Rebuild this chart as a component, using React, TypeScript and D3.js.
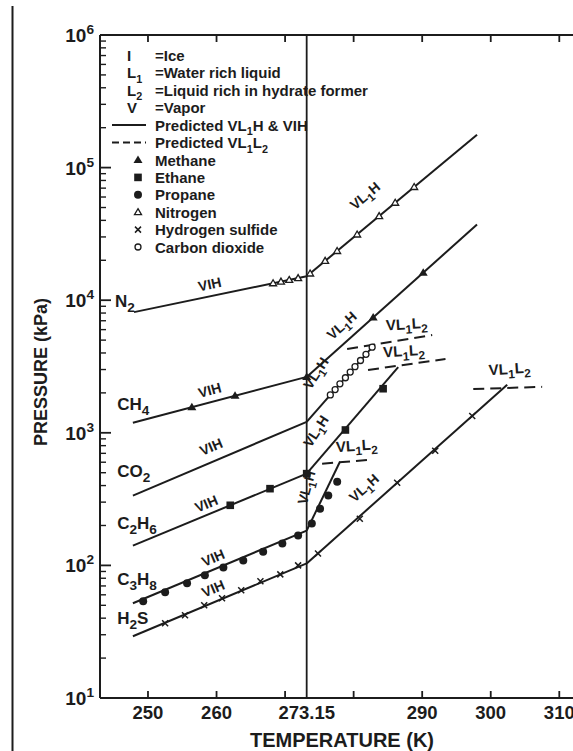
import React from "react";
import * as d3 from "d3";

type Pt = [number, number];

// ---- data (temperature K, pressure kPa) ----
const xTickValues = [250, 260, 270, 273.15, 280, 290, 300, 310];
const xTickLabels = ["250", "260", "", "273.15", "", "290", "300", "310"];
const yDecades = [1, 2, 3, 4, 5, 6];

const n2VIH: Pt[] = [[247.96, 8130], [273.15, 15140]];
const n2VL1H: Pt[] = [[273.15, 15140], [298.0, 177000]];
const n2Points: Pt[] = [
  [268.25, 13420], [269.4, 13800], [270.6, 14220], [271.9, 14690],
  [273.65, 15900], [275.84, 19800], [277.59, 23500], [280.51, 31300],
  [283.72, 43100], [286.06, 54300], [288.83, 71400],
];

const ch4VIH: Pt[] = [[247.8, 1190], [273.15, 2640]];
const ch4VL1H: Pt[] = [[273.15, 2640], [298.0, 37200]];
const ch4Points: Pt[] = [[256.4, 1560], [262.7, 1900], [273.15, 2640], [282.85, 7410], [290.15, 16100]];

const co2VIH: Pt[] = [[247.8, 336], [273.15, 1210]];
const co2VL1H: Pt[] = [[273.15, 1210], [283.1, 4670]];
const co2VL1L2: Pt[] = [[279.05, 4290], [291.46, 5460]];
const co2Points: Pt[] = [
  [276.6, 1930], [277.3, 2120], [278.0, 2340], [278.8, 2600], [279.5, 2870],
  [280.2, 3150], [281.0, 3510], [281.8, 3910], [282.7, 4420],
];

const c2h6VIH: Pt[] = [[247.8, 141], [273.15, 492]];
const c2h6VL1H: Pt[] = [[273.15, 492], [286.5, 3130]];
const c2h6VL1L2: Pt[] = [[282.1, 2980], [293.4, 3600]];
const c2h6Points: Pt[] = [[262.0, 284], [267.8, 379], [273.15, 492], [278.8, 1050], [284.3, 2150]];

const c3h8VIH: Pt[] = [[247.8, 51.8], [273.15, 183]];
const c3h8VL1H: Pt[] = [[273.15, 183], [278.0, 605]];
const c3h8VL1L2: Pt[] = [[275.4, 585], [282.7, 627]];
const c3h8Points: Pt[] = [
  [249.3, 53.6], [252.5, 62.7], [255.7, 73.2], [258.3, 84.1], [261.0, 96.6],
  [263.9, 109], [266.8, 127], [269.6, 146], [271.9, 168],
  [273.9, 207], [275.1, 268], [276.3, 336], [277.6, 428],
];

const h2sVIH: Pt[] = [[247.8, 29.2], [273.15, 103.5]];
const h2sVL1H: Pt[] = [[273.15, 103.5], [302.4, 2300]];
const h2sVL1L2: Pt[] = [[297.45, 2140], [307.5, 2220]];
const h2sPoints: Pt[] = [
  [252.5, 36.6], [255.4, 42.1], [258.2, 50.0], [260.8, 56.5], [263.6, 64.9],
  [266.4, 75.9], [269.3, 85.6], [271.9, 100],
  [274.8, 123], [280.9, 225], [286.35, 420], [291.9, 732], [297.3, 1340],
];

const legendKeys = ["I", "L_1", "L_2", "V"];
const legendKeyTexts = ["=Ice", "=Water rich liquid", "=Liquid rich in hydrate former", "=Vapor"];
const legendLineTexts = ["Predicted VL_1H & VIH", "Predicted VL_1L_2"];
const legendMarkerTypes = ["triUp", "square", "dot", "triOpen", "cross", "circleOpen"];
const legendMarkerTexts = ["Methane", "Ethane", "Propane", "Nitrogen", "Hydrogen sulfide", "Carbon dioxide"];

const compoundNames = ["N_2", "CH_4", "CO_2", "C_2H_6", "C_3H_8", "H_2S"];

const INK = "#1c1c1c";
const FONT = "'Liberation Sans', Arial, Helvetica, sans-serif";

function Rich({ text, fs, sub = 0.72 }: { text: string; fs: number; sub?: number }) {
  const parts = text.split(/([_^].)/).filter((p) => p.length);
  let shift = 0;
  return (
    <>
      {parts.map((p, i) => {
        if (p[0] === "_" || p[0] === "^") {
          const target = p[0] === "_" ? fs * 0.3 : -fs * 0.42;
          const dy = target - shift;
          shift = target;
          return (
            <tspan key={i} dy={dy} fontSize={fs * sub}>
              {p[1]}
            </tspan>
          );
        }
        const dy = -shift;
        shift = 0;
        return (
          <tspan key={i} dy={dy}>
            {p}
          </tspan>
        );
      })}
    </>
  );
}

function Marker({ type, x, y }: { type: string; x: number; y: number }) {
  const s = 4;
  switch (type) {
    case "triUp":
      return <path d={`M${x},${y - s - 0.5}L${x + s + 0.5},${y + s - 1}L${x - s - 0.5},${y + s - 1}Z`} fill={INK} />;
    case "triOpen":
      return (
        <path
          d={`M${x},${y - s + 0.5}L${x + s - 0.5},${y + s - 1.5}L${x - s + 0.5},${y + s - 1.5}Z`}
          fill="white"
          stroke={INK}
          strokeWidth={1.3}
        />
      );
    case "square":
      return <rect x={x - 3.8} y={y - 3.8} width={7.6} height={7.6} fill={INK} />;
    case "dot":
      return <circle cx={x} cy={y} r={4} fill={INK} />;
    case "cross":
      return (
        <path
          d={`M${x - 3},${y - 3}L${x + 3},${y + 3}M${x - 3},${y + 3}L${x + 3},${y - 3}`}
          stroke={INK}
          strokeWidth={1.5}
        />
      );
    case "circleOpen":
      return <circle cx={x} cy={y} r={3} fill="white" stroke={INK} strokeWidth={1.3} />;
    default:
      return null;
  }
}

export default function App() {
  const W = 573;
  const H = 751;
  const left = 100;
  const top = 35;
  const bottom = 698;
  const x = d3.scaleLinear().domain([243, 312]).range([left, W]);
  const y = d3.scaleLog().domain([10, 1e6]).range([bottom, top]);
  const line = d3
    .line<Pt>()
    .x((d) => x(d[0]))
    .y((d) => y(d[1]));

  const solid = [n2VIH, n2VL1H, ch4VIH, ch4VL1H, co2VIH, co2VL1H, c2h6VIH, c2h6VL1H, c3h8VIH, c3h8VL1H, h2sVIH, h2sVL1H];
  const dashed = [co2VL1L2, c2h6VL1L2, c3h8VL1L2, h2sVL1L2];

  const markerSets: { pts: Pt[]; type: string }[] = [
    { pts: n2Points, type: "triOpen" },
    { pts: ch4Points, type: "triUp" },
    { pts: co2Points, type: "circleOpen" },
    { pts: c2h6Points, type: "square" },
    { pts: c3h8Points, type: "dot" },
    { pts: h2sPoints, type: "cross" },
  ];

  // annotation anchors in data units
  const vihLabels: { t: number; p: number; a: number }[] = [
    { t: 259.0, p: 13200, a: -12 },
    { t: 259.0, p: 2100, a: -15 },
    { t: 259.2, p: 785, a: -23 },
    { t: 258.5, p: 292, a: -23 },
    { t: 259.5, p: 114, a: -23 },
    { t: 259.5, p: 67, a: -23 },
  ];
  const vl1hLabels: { t: number; p: number; a: number }[] = [
    { t: 282.1, p: 57400, a: -40 },
    { t: 278.75, p: 6050, a: -42 },
    { t: 275.1, p: 2690, a: -57 },
    { t: 275.1, p: 982, a: -57 },
    { t: 273.8, p: 379, a: -75 },
    { t: 282.0, p: 360, a: -42 },
  ];
  const vl1l2Labels: { t: number; p: number }[] = [
    { t: 287.8, p: 6050 },
    { t: 287.4, p: 3790 },
    { t: 280.5, p: 733 },
    { t: 302.8, p: 2780 },
  ];
  const nameAnchors: { t: number; p: number }[] = [
    { t: 245.2, p: 9820 },
    { t: 245.5, p: 1650 },
    { t: 245.5, p: 518 },
    { t: 245.5, p: 210 },
    { t: 245.5, p: 78.5 },
    { t: 245.5, p: 40 },
  ];

  const minorTicks: number[] = [];
  for (let d = 1; d < 6; d++) for (let m = 2; m <= 9; m++) minorTicks.push(m * Math.pow(10, d));

  const LFS = 15;

  return (
    <svg width={W} height={H} style={{ display: "block", position: "absolute", left: 0, top: 0, background: "white" }} fontFamily={FONT}>
      <rect x={0} y={0} width={W} height={H} fill="white" />
      {/* scan border */}
      <line x1={12.5} y1={6} x2={12.5} y2={H} stroke={INK} strokeWidth={2} />

      {/* axes */}
      <line x1={left} y1={top} x2={W} y2={top} stroke={INK} strokeWidth={2} />
      <line x1={left} y1={bottom} x2={W} y2={bottom} stroke={INK} strokeWidth={2} />
      <line x1={left} y1={top} x2={left} y2={bottom} stroke={INK} strokeWidth={2} />
      <line x1={x(273.15)} y1={top} x2={x(273.15)} y2={bottom} stroke={INK} strokeWidth={1.8} />

      {xTickValues.map((v, i) =>
        v === 273.15 ? null : (
          <g key={"xt" + i}>
            <line x1={x(v)} x2={x(v)} y1={bottom} y2={bottom - 7} stroke={INK} strokeWidth={1.8} />
            <line x1={x(v)} x2={x(v)} y1={top} y2={top + 7} stroke={INK} strokeWidth={1.8} />
          </g>
        )
      )}
      {xTickValues.map((v, i) =>
        xTickLabels[i] ? (
          <text key={"xl" + i} x={x(v)} y={bottom + 21} textAnchor="middle" fontSize={18.5} fontWeight="bold" fill={INK}>
            {xTickLabels[i]}
          </text>
        ) : null
      )}

      {yDecades.map((d) => (
        <g key={"yd" + d}>
          <line x1={left} x2={left + 11} y1={y(Math.pow(10, d))} y2={y(Math.pow(10, d))} stroke={INK} strokeWidth={1.8} />
          <text x={left - 6} y={y(Math.pow(10, d)) + 7} textAnchor="end" fontSize={19} fontWeight="bold" fill={INK}>
            <Rich text={"10^" + d} fs={19} />
          </text>
        </g>
      ))}
      {minorTicks.map((v, i) => (
        <line key={"ym" + i} x1={left} x2={left + 6} y1={y(v)} y2={y(v)} stroke={INK} strokeWidth={1.4} />
      ))}

      <text
        transform={`translate(47,372) rotate(-90)`}
        textAnchor="middle"
        fontSize={18}
        fontWeight="bold"
        fill={INK}
      >
        PRESSURE (kPa)
      </text>
      <text x={342} y={747} textAnchor="middle" fontSize={20} fontWeight="bold" fill={INK}>
        TEMPERATURE (K)
      </text>

      {/* curves */}
      {solid.map((s, i) => (
        <path key={"s" + i} d={line(s) || ""} fill="none" stroke={INK} strokeWidth={2} />
      ))}
      {dashed.map((s, i) => (
        <path key={"d" + i} d={line(s) || ""} fill="none" stroke={INK} strokeWidth={2} strokeDasharray="11,6" />
      ))}
      {markerSets.map((m, i) =>
        m.pts.map((p, j) => <Marker key={"m" + i + "_" + j} type={m.type} x={x(p[0])} y={y(p[1])} />)
      )}

      {/* annotations */}
      {vihLabels.map((l, i) => (
        <text key={"vih" + i} transform={`translate(${x(l.t)},${y(l.p)}) rotate(${l.a})`} textAnchor="middle" dy={5} fontSize={14} fontWeight="bold" fill={INK}>
          VIH
        </text>
      ))}
      {vl1hLabels.map((l, i) => (
        <text key={"vl1h" + i} transform={`translate(${x(l.t)},${y(l.p)}) rotate(${l.a})`} textAnchor="middle" dy={5} fontSize={14} fontWeight="bold" fill={INK}>
          <Rich text="VL_1H" fs={14} sub={0.8} />
        </text>
      ))}
      {vl1l2Labels.map((l, i) => (
        <text key={"vl1l2" + i} transform={`translate(${x(l.t)},${y(l.p)}) rotate(-4)`} textAnchor="middle" dy={5} fontSize={15} fontWeight="bold" fill={INK}>
          <Rich text="VL_1L_2" fs={15} sub={0.8} />
        </text>
      ))}
      {compoundNames.map((n, i) => (
        <text key={"cn" + i} x={x(nameAnchors[i].t)} y={y(nameAnchors[i].p) + 6} fontSize={17} fill={INK} fontWeight="bold">
          <Rich text={n} fs={17} sub={0.8} />
        </text>
      ))}

      {/* legend */}
      {legendKeys.map((k, i) => (
        <g key={"lk" + i}>
          <text x={127} y={60.5 + i * 17.5} fontSize={LFS} fontWeight="bold" fill={INK}>
            <Rich text={k} fs={LFS} />
          </text>
          <text x={155} y={60.5 + i * 17.5} fontSize={LFS} fontWeight="bold" fill={INK}>
            {legendKeyTexts[i]}
          </text>
        </g>
      ))}
      {legendLineTexts.map((t, i) => (
        <g key={"ll" + i}>
          <line x1={112} x2={146} y1={125 + i * 17.5} y2={125 + i * 17.5} stroke={INK} strokeWidth={1.8} strokeDasharray={i === 1 ? "7,4" : undefined} />
          <text x={155} y={130.5 + i * 17.5} fontSize={LFS} fontWeight="bold" fill={INK}>
            <Rich text={t} fs={LFS} />
          </text>
        </g>
      ))}
      {legendMarkerTypes.map((t, i) => (
        <g key={"lm" + i}>
          <Marker type={t} x={138} y={160 + i * 17.4} />
          <text x={155} y={165.5 + i * 17.4} fontSize={LFS} fontWeight="bold" fill={INK}>
            {legendMarkerTexts[i]}
          </text>
        </g>
      ))}
    </svg>
  );
}
